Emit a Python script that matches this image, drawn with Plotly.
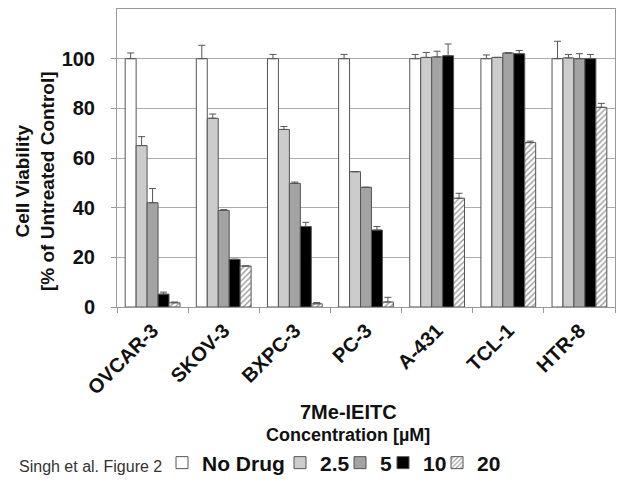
import plotly.graph_objects as go

categories = ["OVCAR-3", "SKOV-3", "BXPC-3", "PC-3", "A-431", "TCL-1", "HTR-8"]
series_names = ["No Drug", "2.5", "5", "10", "20"]

no_drug = [100, 100, 100, 100, 100, 100, 100]
c2_5 = [65, 76, 71.5, 54.5, 100.5, 100.5, 100.3]
c5 = [42, 38.9, 49.8, 48.2, 100.7, 102.3, 100]
c10 = [5.2, 19.2, 32.4, 31, 101.2, 102, 100]
c20 = [1.7, 16.5, 1.3, 2, 43.8, 66.2, 80.4]

err_no_drug = [2.3, 5.4, 1.7, 1.7, 1.7, 1.5, 7]
err_2_5 = [3.6, 1.7, 1.2, 0, 2, 0, 1.4]
err_5 = [5.7, 0.3, 0.5, 0, 2.3, 0, 2]
err_10 = [0.8, 0, 1.7, 1.4, 4.7, 1.3, 1.7]
err_20 = [0.3, 0, 0.5, 1.9, 2, 0.6, 1.6]

values = [no_drug, c2_5, c5, c10, c20]
errors = [err_no_drug, err_2_5, err_5, err_10, err_20]
fills = ["#ffffff", "#cccccc", "#a3a3a3", "#000000", "#ffffff"]

# page body has an 8px default margin: work in screen pixels and shift
OFF = 8
W, H = 624 - OFF, 483 - OFF
PLOT_L, PLOT_R, PLOT_T, PLOT_B = 117, 615, 9, 307  # screen pixels
ML, MT = PLOT_L - OFF, PLOT_T - OFF
MR, MB = W - (PLOT_R - OFF), H - (PLOT_B - OFF)
PW, PH = PLOT_R - PLOT_L, PLOT_B - PLOT_T

def px_x(x):
    return (x - PLOT_L) / PW

def px_y(y):
    return (PLOT_B - y) / PH

font_family = "Liberation Sans, Arial, sans-serif"
legend_text_px = [202, 320, 380, 423, 477]  # screen x where legend texts begin
legend_y_px = 463

fig = go.Figure()
for i, (name, vals, errs, fill) in enumerate(zip(series_names, values, errors, fills)):
    marker = dict(color=fill, line=dict(color="#555555", width=1))
    if name == "20":
        marker["pattern"] = dict(shape="/", fgcolor="#333333", bgcolor="#ffffff",
                                 size=4, solidity=0.35)
    fig.add_trace(go.Bar(
        name=name, x=categories, y=vals, marker=marker,
        legend="legend" if i == 0 else f"legend{i + 1}",
        error_y=dict(type="data", symmetric=False, array=errs,
                     arrayminus=[0] * len(errs), color="#555555",
                     thickness=1, width=3.5),
    ))

legend_common = dict(orientation="h", xref="container", yref="container",
                     xanchor="left", yanchor="middle", bgcolor="rgba(0,0,0,0)",
                     font=dict(size=21, family=font_family, color="#111111", weight="bold"),
                     itemwidth=30)
layout_legends = {}
for i, tx in enumerate(legend_text_px):
    key = "legend" if i == 0 else f"legend{i + 1}"
    layout_legends[key] = dict(legend_common, x=(tx - OFF - 40) / W,
                               y=(H - (legend_y_px - OFF)) / H)

fig.update_layout(
    width=W, height=H,
    margin=dict(l=ML, r=MR, t=MT, b=MB, autoexpand=False),
    paper_bgcolor="white", plot_bgcolor="white",
    barmode="group", bargap=0.23, bargroupgap=0,
    font=dict(family=font_family, color="#222222"),
    showlegend=True,
    **layout_legends,
    annotations=[
        dict(text="Singh et al. Figure 2", x=px_x(17), y=px_y(466), xref="paper", yref="paper",
             xanchor="left", yanchor="middle", showarrow=False,
             font=dict(size=16, color="#333333")),
        dict(text="<b>7Me-IEITC</b>", x=px_x(348), y=px_y(412), xref="paper", yref="paper",
             xanchor="center", yanchor="middle", showarrow=False,
             font=dict(size=20, color="#111111")),
        dict(text="<b>Concentration [µM]</b>", x=px_x(348), y=px_y(435), xref="paper", yref="paper",
             xanchor="center", yanchor="middle", showarrow=False,
             font=dict(size=18, color="#111111")),
        dict(text="<b>Cell Viability<br>[% of Untreated Control]</b>", x=px_x(35), y=px_y(181),
             xref="paper", yref="paper", xanchor="center", yanchor="middle", textangle=-90,
             showarrow=False, font=dict(size=19, color="#111111")),
    ],
)

fig.update_xaxes(
    tickangle=-45, tickfont=dict(size=20, family=font_family, color="#111111", weight="bold"),
    showline=True, linecolor="#999999", mirror=True, automargin=False,
    ticks="outside", tickson="boundaries", ticklen=5, tickcolor="#999999",
    ticklabelstandoff=3, showgrid=False,
)
fig.update_yaxes(
    range=[0, 120], tickvals=[0, 20, 40, 60, 80, 100],
    tickfont=dict(size=20, family=font_family, color="#111111", weight="bold"),
    showline=True, linecolor="#999999", mirror=True, automargin=False,
    ticks="outside", ticklen=5, tickcolor="#999999", ticklabelstandoff=12,
    showgrid=True, gridcolor="#ababab", gridwidth=1,
    zeroline=False,
)

fig.write_html("out.html")
